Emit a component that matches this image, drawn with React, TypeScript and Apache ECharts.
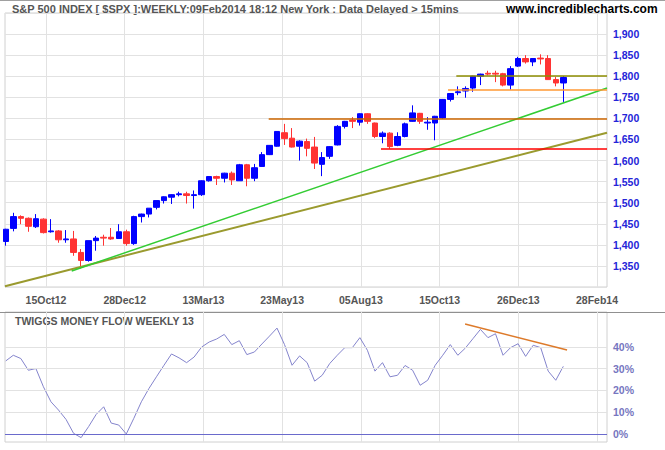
import React, { useEffect, useRef } from 'react';
import * as echarts from 'echarts';

// Weekly S&P 500 candles (index 0 = week of 07Sep12, index 74 = week of 07Feb14)
const opens = [
  1408, 1439, 1467, 1463, 1443, 1461, 1431, 1433, 1412, 1414,
  1382, 1363, 1410, 1418, 1418, 1415, 1431, 1403, 1467, 1473,
  1489, 1505, 1513, 1519, 1521, 1517, 1519, 1552, 1562, 1558,
  1570, 1552, 1590, 1558, 1586, 1614, 1634, 1666, 1653, 1634,
  1645, 1632, 1591, 1610, 1637, 1681, 1696, 1691, 1711, 1689,
  1657, 1665, 1636, 1657, 1693, 1712, 1689, 1689, 1701, 1745,
  1761, 1765, 1772, 1800, 1807, 1807, 1806, 1779, 1824, 1842,
  1834, 1843, 1842, 1792, 1784,
];
const closes = [
  1437, 1467, 1463, 1444, 1462, 1429, 1433, 1412, 1414, 1382,
  1363, 1410, 1416, 1416, 1414, 1431, 1403, 1467, 1473, 1487,
  1505, 1514, 1519, 1521, 1517, 1519, 1552, 1562, 1558, 1570,
  1554, 1590, 1558, 1583, 1614, 1636, 1669, 1652, 1632, 1646,
  1629, 1594, 1607, 1633, 1681, 1693, 1693, 1711, 1693, 1657,
  1665, 1633, 1657, 1687, 1713, 1693, 1691, 1705, 1745, 1759,
  1763, 1771, 1800, 1805, 1805, 1805, 1779, 1818, 1842, 1834,
  1842, 1841, 1792, 1784, 1797,
];
const lows = [
  1398, 1432, 1449, 1431, 1440, 1427, 1429, 1405, 1405, 1374,
  1344, 1360, 1386, 1398, 1412, 1415, 1398, 1400, 1453, 1465,
  1484, 1498, 1497, 1515, 1498, 1486, 1516, 1550, 1542, 1548,
  1542, 1552, 1539, 1551, 1585, 1613, 1633, 1637, 1631, 1600,
  1610, 1580, 1563, 1604, 1636, 1676, 1677, 1683, 1687, 1653,
  1641, 1628, 1634, 1655, 1692, 1687, 1673, 1648, 1699, 1740,
  1755, 1749, 1763, 1779, 1802, 1786, 1776, 1768, 1822, 1830,
  1824, 1828, 1792, 1776, 1739,
];
const highs = [
  1438, 1476, 1470, 1465, 1473, 1463, 1461, 1435, 1435, 1433,
  1390, 1410, 1421, 1424, 1440, 1449, 1436, 1469, 1474, 1487,
  1505, 1515, 1520, 1526, 1526, 1529, 1553, 1563, 1564, 1571,
  1574, 1592, 1592, 1592, 1620, 1636, 1669, 1687, 1677, 1648,
  1652, 1656, 1620, 1634, 1684, 1694, 1703, 1712, 1712, 1690,
  1669, 1667, 1667, 1690, 1731, 1713, 1703, 1706, 1746, 1760,
  1776, 1776, 1801, 1806, 1813, 1813, 1808, 1824, 1846, 1850,
  1843, 1852, 1850, 1798, 1800,
];

// Twiggs Money Flow (13 week), percent
const moneyFlow = [
  33.6, 36.2, 34.7, 29.3, 30.1, 21.7, 14.8, 11.0, 6.7, 0.3,
  -1.7, 3.4, 9.0, 12.5, 5.0, 4.1, 0.0, 7.2, 14.8, 20.9,
  26.3, 31.6, 36.8, 35.0, 32.8, 35.4, 40.0, 42.3, 43.7, 45.8,
  41.1, 42.9, 36.5, 37.7, 41.4, 45.0, 48.7, 41.1, 31.6, 35.9,
  32.8, 24.3, 27.0, 32.4, 36.2, 39.7, 39.7, 44.3, 38.5, 28.9,
  32.8, 26.3, 27.0, 31.5, 29.3, 22.4, 24.7, 31.6, 36.2, 41.1,
  36.2, 39.5, 43.8, 48.1, 44.3, 46.1, 36.2, 39.7, 41.5, 35.7,
  40.8, 39.7, 28.9, 24.7, 31.1,
];

const dateTickLabels = ['15Oct12', '28Dec12', '13Mar13', '23May13', '05Aug13', '15Oct13', '26Dec13', '28Feb14'];
const flowTicks = [0, 10, 20, 30, 40];

// Drawn trend / level lines: [week index, value] pairs
const greenTrend = [[8.75, 1338], [79.8, 1772]];
const oliveTrend = [[-0.1, 1302], [79.8, 1666]];
const orangeLevel = [[34.9, 1700], [79.8, 1700]];
const redLevel = [[49.8, 1628], [79.8, 1628]];
const oliveLevel = [[59.8, 1800], [79.8, 1800]];
const lightOrangeLevel = [[58.7, 1768], [79.8, 1768]];
const flowTrend = [[60.96, 50.6], [74.5, 38.6]];

const FONT = 'Liberation Sans, Arial, Helvetica, sans-serif';

function seg(pts: number[][], color: string, width: number) {
  return [
    { coord: pts[0], lineStyle: { color, width, type: 'solid' } },
    { coord: pts[1], lineStyle: { color, width, type: 'solid' } },
  ];
}

export default function App() {
  const ref = useRef<HTMLDivElement>(null);
  useEffect(() => {
    if (!ref.current) return;
    const chart = echarts.init(ref.current, null, { renderer: 'svg' });
    const candles = opens.map((o, i) => [i, o, closes[i], lows[i], highs[i]]);
    const flow = moneyFlow.map((v, i) => [i, v]);
    const gridColor = '#e2e2e2';
    const option: any = {
      animation: false,
      backgroundColor: '#ffffff',
      grid: [
        { left: 5, right: 58, top: 13, bottom: 163, show: true, borderColor: '#d0d0d0', borderWidth: 1, backgroundColor: 'transparent' },
        { left: 46, right: 68, top: 13, bottom: 163 },
        { left: 5, right: 58, top: 312, bottom: 8, show: true, borderColor: '#d0d0d0', borderWidth: 1, backgroundColor: 'transparent' },
        { left: 46, right: 68, top: 312, bottom: 8 },
      ],
      xAxis: [
        { gridIndex: 0, type: 'value', min: -0.1, max: 79.8, show: false },
        {
          gridIndex: 1, type: 'value', min: 1, max: 8, interval: 1,
          axisLine: { show: false }, axisTick: { show: false },
          splitLine: { show: true, lineStyle: { color: gridColor, width: 1 } },
          axisLabel: {
            show: true, margin: 7, showMinLabel: true, showMaxLabel: true,
            formatter: (v: number) => dateTickLabels[Math.round(v) - 1] || '',
            color: '#555555', fontWeight: 'bold', fontSize: 10.5, fontFamily: FONT,
          },
        },
        { gridIndex: 2, type: 'value', min: -0.1, max: 79.8, show: false },
        {
          gridIndex: 3, type: 'value', min: 1, max: 8, interval: 1,
          axisLine: { show: false }, axisTick: { show: false }, axisLabel: { show: false },
          splitLine: { show: true, lineStyle: { color: gridColor, width: 1 } },
        },
      ],
      yAxis: [
        {
          gridIndex: 0, type: 'value', position: 'right', min: 1300, max: 1950, interval: 50,
          axisLine: { show: false }, axisTick: { show: false },
          splitLine: { show: true, lineStyle: { color: gridColor, width: 1 } },
          axisLabel: {
            margin: 6,
            formatter: (v: number) => (v <= 1300 || v >= 1950 ? '' : v.toLocaleString('en-US')),
            color: '#2424d8', fontWeight: 'bold', fontSize: 10.5, fontFamily: FONT,
          },
        },
        { gridIndex: 1, type: 'value', min: 0, max: 1, show: false },
        { gridIndex: 2, type: 'value', min: -3.7, max: 56.1, show: false },
        { gridIndex: 3, type: 'value', min: 0, max: 1, show: false },
      ],
      series: [
        {
          type: 'candlestick', xAxisIndex: 0, yAxisIndex: 0, z: 3,
          data: candles, barWidth: 6,
          itemStyle: { color: '#0000ff', color0: '#ff3333', borderColor: '#0000ff', borderColor0: '#ff3333', borderWidth: 1 },
          markLine: {
            silent: true, symbol: ['none', 'none'], label: { show: false }, animation: false,
            data: [
              seg(oliveTrend, '#9a9a2e', 2),
              seg(greenTrend, '#33cc33', 1.5),
              seg(orangeLevel, '#cc6600', 1.5),
              seg(redLevel, '#ff0000', 1.5),
              seg(oliveLevel, '#8c8c00', 1.5),
              seg(lightOrangeLevel, '#ff9933', 1.5),
            ],
          },
        },
        {
          type: 'line', xAxisIndex: 2, yAxisIndex: 2, z: 1,
          data: flow, showSymbol: false, silent: true,
          lineStyle: { opacity: 0 },
          markLine: {
            silent: true, symbol: ['none', 'none'], animation: false,
            label: {
              show: true, position: 'end', distance: 6,
              formatter: (p: any) => p.value + '%',
              color: '#7676c0', fontWeight: 'bold', fontSize: 10.5, fontFamily: FONT,
            },
            data: flowTicks.map((t) => ({
              yAxis: t,
              lineStyle: { color: t === 0 ? '#6a6acc' : gridColor, width: 1, type: 'solid' },
            })),
          },
        },
        {
          type: 'line', xAxisIndex: 2, yAxisIndex: 2, z: 3,
          data: flow, showSymbol: false, silent: true,
          lineStyle: { color: '#8484cc', width: 1 },
          markLine: {
            silent: true, symbol: ['none', 'none'], label: { show: false }, animation: false,
            data: [seg(flowTrend, '#dd7a2a', 1.5)],
          },
        },
      ],
      graphic: [
        { type: 'line', shape: { x1: 0, y1: 0.5, x2: 665, y2: 0.5 }, style: { stroke: '#a0a0a0', lineWidth: 1 } },
        { type: 'line', shape: { x1: 0, y1: 312.5, x2: 665, y2: 312.5 }, style: { stroke: '#909090', lineWidth: 1 } },
        {
          type: 'text', x: 12, y: 9,
          style: {
            text: 'S&P 500 INDEX [ $SPX ]:WEEKLY:09Feb2014 18:12 New York : Data Delayed > 15mins',
            font: 'bold 11px "Liberation Sans Narrow", "Arial Narrow", Arial, sans-serif',
            fill: '#555555', textVerticalAlign: 'middle',
          },
        },
        {
          type: 'text', x: 506, y: 9,
          style: {
            text: 'www.incrediblecharts.com',
            font: 'bold 12px "Liberation Sans", Arial, sans-serif',
            fill: '#000000', textVerticalAlign: 'middle',
          },
        },
        {
          type: 'text', x: 15, y: 321,
          style: {
            text: 'TWIGGS MONEY FLOW WEEKLY 13',
            font: 'bold 10.5px "Liberation Sans", Arial, sans-serif',
            fill: '#555555', textVerticalAlign: 'middle',
          },
        },
      ],
    };
    chart.setOption(option);
    return () => chart.dispose();
  }, []);
  return <div ref={ref} style={{ position: 'absolute', left: 0, top: 0, width: 665, height: 450 }} />;
}
